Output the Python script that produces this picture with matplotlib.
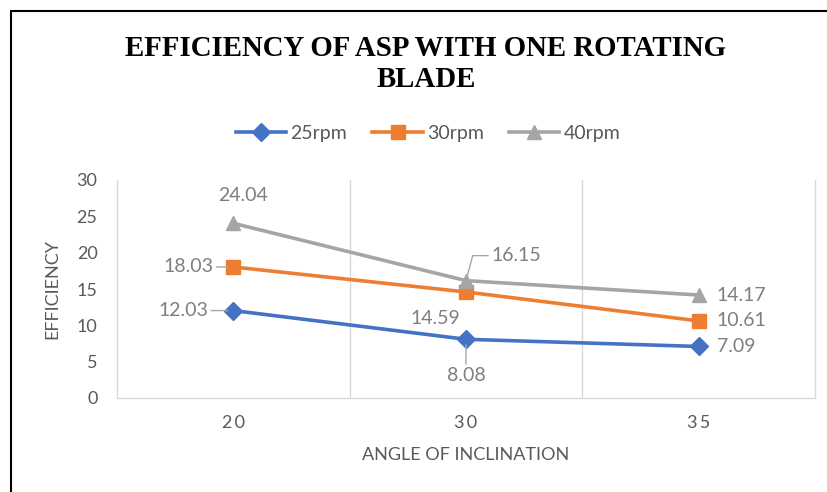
import matplotlib.pyplot as plt
from matplotlib.patches import Rectangle

# données
angles = ['20', '30', '35']
eff_25 = [12.03, 8.08, 7.09]
eff_30 = [18.03, 14.59, 10.61]
eff_40 = [24.04, 16.15, 14.17]
series_names = ['25rpm', '30rpm', '40rpm']
y_ticks = [0, 5, 10, 15, 20, 25, 30]

plt.rcParams['font.family'] = ['Lato', 'DejaVu Sans']

fig = plt.figure(figsize=(8.28, 4.92), dpi=100)
ax = fig.add_axes([117 / 828, 94 / 492, 698 / 828, 218 / 492])

# cadre du graphique (seuls le haut et la gauche sont visibles)
fig.patches.append(Rectangle((11 / 828, -0.1), 1.2, (481 / 492) + 0.1, transform=fig.transFigure,
                             fill=False, edgecolor='black', linewidth=1.5))

x = list(range(len(angles)))
styles = [('#4472C4', 'D', 9.5), ('#ED7D31', 's', 10.5), ('#A5A5A5', '^', 10.5)]
for vals, name, (col, mk, ms) in zip([eff_25, eff_30, eff_40], series_names, styles):
    ax.plot(x, vals, color=col, marker=mk, markersize=ms, linewidth=2.6, label=name, zorder=3)

# étiquettes de données
lbl_col = '#7F7F7F'
lab_fs = 14

def label(xi, v, dx, dy, ha, leader=None):
    arrow = None
    if leader:
        arrow = dict(arrowstyle='-', color='#A6A6A6', lw=1, shrinkA=0, shrinkB=4,
                     connectionstyle=leader)
    ax.annotate(f'{v:.2f}', (xi, v), xytext=(dx, dy), textcoords='offset points',
                ha=ha, va='center', color=lbl_col, fontsize=lab_fs, arrowprops=arrow)

label(0, eff_25[0], -18, 0, 'right', 'arc3')
label(1, eff_25[1], 0, -26, 'center', 'arc3')
label(2, eff_25[2], 13, 0, 'left')
label(0, eff_30[0], -14, 0, 'right', 'arc3')
label(1, eff_30[1], -4, -19, 'right')
label(2, eff_30[2], 13, 0, 'left')
label(0, eff_40[0], 7, 20, 'center')
label(1, eff_40[1], 18, 18, 'left', 'angle,angleA=0,angleB=75,rad=0')
label(2, eff_40[2], 13, 0, 'left')

ax.set_xlim(-0.5, 2.5)
ax.set_ylim(0, 30)
ax.set_yticks(y_ticks)
ax.set_xticks(x)
ax.set_xticklabels(['\u2009'.join(a) for a in angles])
ax.tick_params(length=0, labelsize=13, labelcolor='#595959')
ax.tick_params(axis='x', pad=12)
ax.tick_params(axis='y', pad=14)

# quadrillage vertical entre catégories
for gx in [0.5, 1.5]:
    ax.axvline(gx, color='#D9D9D9', linewidth=1, zorder=1)
for s in ['left', 'bottom', 'right']:
    ax.spines[s].set_color('#D9D9D9')
    ax.spines[s].set_linewidth(1)
ax.spines['top'].set_visible(False)

ax.set_xlabel('ANGLE OF INCLINATION', fontsize=13, color='#595959', labelpad=12)
ax.set_ylabel('EFFICIENCY', fontsize=13, color='#595959', labelpad=12)

fig.text(426 / 828, 1 - 64 / 492, 'EFFICIENCY OF ASP WITH ONE ROTATING\nBLADE',
         ha='center', va='center', fontsize=20.8, fontweight='bold',
         family='Liberation Serif', linespacing=1.22)

ax.legend(loc='center', bbox_to_anchor=(428 / 828, 1 - 133 / 492), bbox_transform=fig.transFigure,
          ncol=3, frameon=False, fontsize=14, labelcolor='#595959', handlelength=2.6,
          columnspacing=1.3, handletextpad=0.2)

plt.savefig('out.png', dpi=100)
